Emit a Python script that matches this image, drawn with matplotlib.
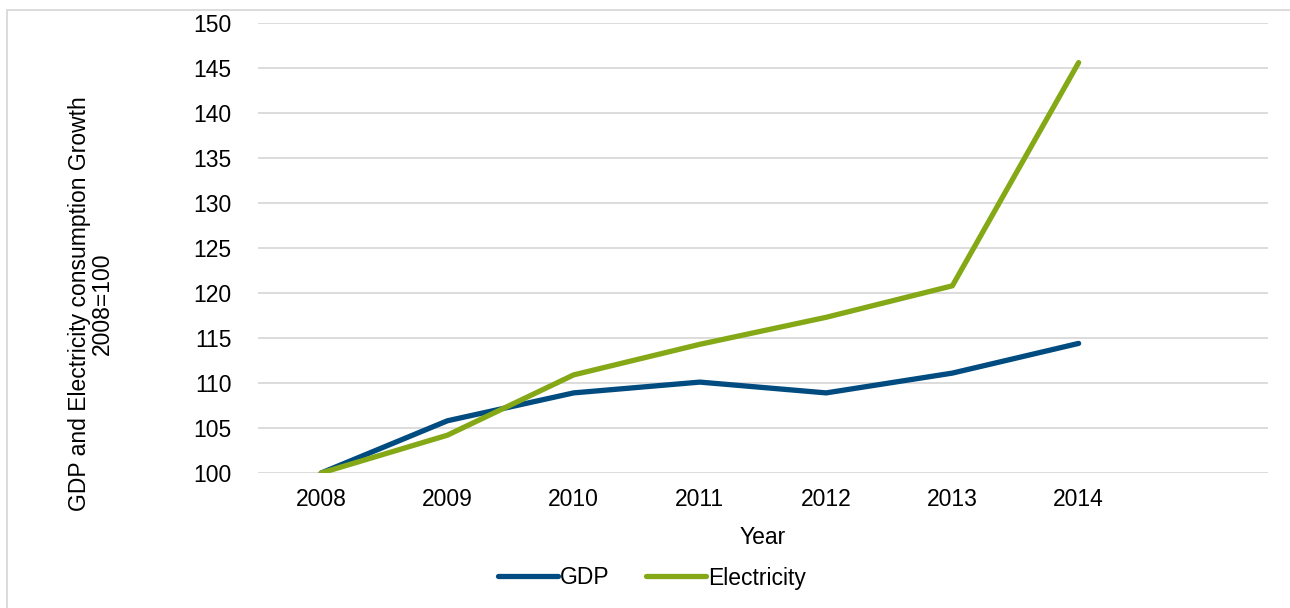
import matplotlib
matplotlib.use("Agg")
import matplotlib.pyplot as plt
from matplotlib.patches import Rectangle

plt.rcParams['font.family'] = ['Liberation Sans', 'DejaVu Sans']

# Index series, 2008 = 100
years = ["2008", "2009", "2010", "2011", "2012", "2013", "2014", ""]
gdp = [100.0, 105.8, 108.9, 110.1, 108.9, 111.1, 114.4]
electricity = [100.0, 104.2, 110.9, 114.3, 117.3, 120.8, 145.6]
y_ticks = list(range(100, 151, 5))

W, H = 1290, 608
FS = 16.5
fig = plt.figure(figsize=(W / 100, H / 100), dpi=100)

# light frame around the chart area
fig.patches.append(Rectangle((7 / W, -0.05), 1.2, 1 - 10 / H + 0.05,
                             transform=fig.transFigure, fill=False,
                             edgecolor="#D9D9D9", linewidth=1.3))

ax = fig.add_axes([258 / W, 1 - 473 / H, (1268 - 258) / W, (473 - 23) / H])

x = list(range(len(gdp)))
ax.plot(x, gdp, color="#004B7F", linewidth=3.8, solid_capstyle="round",
        solid_joinstyle="round", label="GDP", zorder=3)
ax.plot(x, electricity, color="#84A816", linewidth=3.8, solid_capstyle="round",
        solid_joinstyle="round", label="Electricity", zorder=3)

ax.set_xlim(-0.5, len(years) - 0.5)
ax.set_ylim(100, 150)
ax.set_xticks(range(len(years)))
ax.set_xticklabels(years)
ax.set_yticks(y_ticks)
ax.tick_params(axis="both", length=0, labelsize=FS, colors="black")
ax.tick_params(axis="y", pad=19)
ax.tick_params(axis="x", pad=11)
ax.yaxis.grid(True, color="#D9D9D9", linewidth=1.3)
ax.set_axisbelow(True)
for s in ax.spines.values():
    s.set_visible(False)

fig.text(763 / W, 1 - 538 / H, "Year", ha="center", va="center", fontsize=FS)
fig.text(91 / W, 1 - 304 / H, "GDP and Electricity consumption Growth\n2008=100",
         ha="center", va="center", rotation=90, fontsize=FS, linespacing=1.0)

fig.legend(loc="center", bbox_to_anchor=(652 / W, 1 - 578 / H), ncol=2,
           frameon=False, fontsize=FS, handlelength=2.6, handletextpad=0.1,
           columnspacing=1.6)

fig.savefig("out.png", dpi=100)
